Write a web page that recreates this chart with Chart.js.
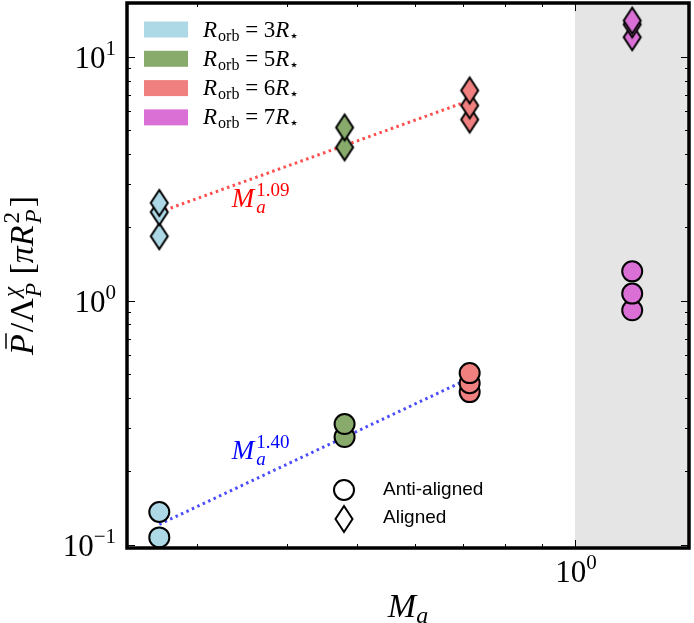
<!DOCTYPE html>
<html>
<head>
<meta charset="utf-8">
<script src="https://cdn.jsdelivr.net/npm/chart.js@4"></script>
<style>
  html, body { margin: 0; padding: 0; background: #fff; }
</style>
</head>
<body>
<canvas id="chart" width="694" height="623"></canvas>
<script>
// axis ranges (log scales)
const xMin = 0.24, xMax = 1.438;
const yMin = 0.0968, yMax = 16.65;

// one entry per orbital radius
const orbitRadii = ['3', '5', '6', '7'];
const alfvenMach = [0.266, 0.48, 0.715, 1.2];
const antiAligned = [
  [0.107, 0.136],
  [0.276, 0.312],
  [0.422, 0.459, 0.505],
  [0.914, 1.07, 1.32],
];
const aligned = [
  [1.84, 2.31, 2.52],
  [4.26, 5.14],
  [5.54, 6.33, 7.29],
  [12.05, 13.6, 14.1],
];

// power-law fits, end points
const fitMach = [0.266, 0.715];
const fitAligned = [2.31, 6.63];
const fitAntiAligned = [0.121, 0.481];
const fitExponents = ['1.09', '1.40'];
const fitLabelAt = [[0.335, 2.42], [0.335, 0.224]];

const yMajorTicks = [0.1, 1, 10];
const yTickExponents = ['\u22121', '0', '1'];
const xMajorTicks = [1];
const xTickExponents = ['0'];
const shadedFrom = 1;

const orbitColors = ['#add8e6', '#88ab6b', '#f08080', '#da70d6'];
const serif = '"Liberation Serif", "DejaVu Serif", serif';
const sans = '"Liberation Sans", Arial, sans-serif';
const it = s => `italic ${s}px ${serif}`;
const rm = s => `${s}px ${serif}`;

function makeDiamond(fill) {
  const c = document.createElement('canvas');
  c.width = 24;
  c.height = 34;
  const g = c.getContext('2d');
  g.beginPath();
  g.moveTo(12, 4);
  g.lineTo(20.5, 17);
  g.lineTo(12, 30);
  g.lineTo(3.5, 17);
  g.closePath();
  if (fill) {
    g.fillStyle = fill;
    g.fill();
  }
  g.lineWidth = 2;
  g.lineJoin = 'miter';
  g.strokeStyle = '#000';
  g.stroke();
  return c;
}

// draws a run of text pieces (sub/superscripts) starting at x, baseline y
function drawRich(ctx, parts, x, y, align) {
  let cur = 0, prevStart = 0, prevEnd = 0;
  const placed = parts.map(p => {
    ctx.font = p.f;
    const w = ctx.measureText(p.t).width;
    const sx = p.back ? prevStart : cur + (p.gap || 0);
    const ex = sx + w;
    cur = p.back ? Math.max(prevEnd, ex) : ex;
    prevStart = sx;
    prevEnd = cur;
    return { p, sx, w };
  });
  let x0 = x;
  if (align === 'right') x0 = x - cur;
  if (align === 'center') x0 = x - cur / 2;
  ctx.textAlign = 'left';
  ctx.textBaseline = 'alphabetic';
  placed.forEach(({ p, sx, w }) => {
    ctx.font = p.f;
    ctx.fillText(p.t, x0 + sx, y + (p.dy || 0));
    if (p.bar) {
      ctx.beginPath();
      ctx.lineWidth = 1.5;
      ctx.moveTo(x0 + sx + w * 0.3, y - p.bar);
      ctx.lineTo(x0 + sx + w * 1.05, y - p.bar);
      ctx.stroke();
    }
  });
  return cur;
}

function logTicks(min, max) {
  const out = [];
  for (let e = Math.floor(Math.log10(min)); e <= Math.ceil(Math.log10(max)); e++) {
    for (let k = 1; k < 10; k++) {
      const v = k * Math.pow(10, e);
      if (v >= min && v <= max) out.push({ v, major: k === 1 });
    }
  }
  return out;
}

const frame = {
  id: 'frame',
  beforeDatasetsDraw(chart) {
    const { ctx, chartArea: a, scales: { x } } = chart;
    const left = x.getPixelForValue(shadedFrom);
    ctx.save();
    ctx.fillStyle = '#e5e5e5';
    ctx.fillRect(left, a.top, a.right - left, a.bottom - a.top);
    ctx.restore();
  },
  afterDatasetsDraw(chart) {
    const { ctx, chartArea: a, scales: { x, y } } = chart;
    ctx.save();
    ctx.strokeStyle = '#000';
    ctx.fillStyle = '#000';

    // ticks, pointing inwards on all four sides
    ctx.lineWidth = 1;
    logTicks(yMin, yMax).forEach(t => {
      const py = Math.round(y.getPixelForValue(t.v)) + 0.5;
      const len = t.major ? 8 : 4;
      ctx.beginPath();
      ctx.moveTo(a.left, py);
      ctx.lineTo(a.left + len, py);
      ctx.moveTo(a.right, py);
      ctx.lineTo(a.right - len, py);
      ctx.stroke();
    });
    logTicks(xMin, xMax).forEach(t => {
      const px = Math.round(x.getPixelForValue(t.v)) + 0.5;
      const len = t.major ? 8 : 4;
      ctx.beginPath();
      ctx.moveTo(px, a.bottom);
      ctx.lineTo(px, a.bottom - len);
      ctx.moveTo(px, a.top);
      ctx.lineTo(px, a.top + len);
      ctx.stroke();
    });

    // frame
    ctx.lineWidth = 3.5;
    ctx.strokeRect(a.left, a.top, a.right - a.left, a.bottom - a.top);

    // tick labels
    yMajorTicks.forEach((v, i) => {
      drawRich(ctx, [
        { t: '10', f: rm(31) },
        { t: yTickExponents[i], f: rm(21), dy: -13 },
      ], a.left - 11, y.getPixelForValue(v) + 11, 'right');
    });
    xMajorTicks.forEach((v, i) => {
      drawRich(ctx, [
        { t: '10', f: rm(31) },
        { t: xTickExponents[i], f: rm(21), dy: -13 },
      ], x.getPixelForValue(v) + 1, a.bottom + 34, 'center');
    });

    // axis titles
    drawRich(ctx, [
      { t: 'M', f: it(34) },
      { t: 'a', f: it(24), dy: 6 },
    ], (a.left + a.right) / 2, 617, 'center');

    ctx.save();
    ctx.translate(33, (a.top + a.bottom) / 2);
    ctx.rotate(-Math.PI / 2);
    drawRich(ctx, [
      { t: 'P', f: it(34), bar: 27 },
      { t: '/', f: rm(34), gap: 2 },
      { t: '\u039b', f: rm(34) },
      { t: '\u03c7', f: it(23), dy: -14, gap: 1 },
      { t: 'P', f: it(23), dy: 8, back: true },
      { t: ' [', f: rm(34) },
      { t: '\u03c0', f: it(34) },
      { t: 'R', f: it(34) },
      { t: '2', f: rm(23), dy: -14, gap: 2 },
      { t: 'P', f: it(23), dy: 8, back: true },
      { t: ']', f: rm(34), gap: 2 },
    ], 0, 0, 'center');
    ctx.restore();

    // fit annotations
    const fitColors = ['#ff0000', '#0000ff'];
    fitExponents.forEach((e, i) => {
      ctx.fillStyle = fitColors[i];
      drawRich(ctx, [
        { t: 'M', f: it(27) },
        { t: e, f: rm(19), dy: -11, gap: 2 },
        { t: 'a', f: it(19), dy: 6, back: true },
      ], x.getPixelForValue(fitLabelAt[i][0]), y.getPixelForValue(fitLabelAt[i][1]), 'left');
    });

    // orbit legend (top left)
    orbitRadii.forEach((r, i) => {
      const rowY = a.top + 26.5 + 29.3 * i;
      ctx.fillStyle = orbitColors[i];
      ctx.fillRect(a.left + 17, rowY - 8, 44, 16);
      ctx.fillStyle = '#000';
      drawRich(ctx, [
        { t: 'R', f: it(23) },
        { t: 'orb', f: rm(16), dy: 4, gap: 1 },
        { t: ' = ' + r, f: rm(23) },
        { t: 'R', f: it(23) },
        { t: '\u22c6', f: rm(16), dy: 4 },
      ], a.left + 76, rowY + 7, 'left');
    });

    // marker legend
    const lx = a.left + 217;
    ctx.lineWidth = 2;
    ctx.beginPath();
    ctx.arc(lx, 490, 10, 0, Math.PI * 2);
    ctx.stroke();
    ctx.drawImage(makeDiamond(null), lx - 12, 519 - 17);
    ctx.font = `19px ${sans}`;
    ctx.textAlign = 'left';
    ctx.textBaseline = 'middle';
    ctx.fillText('Anti-aligned', a.left + 256, 490);
    ctx.fillText('Aligned', a.left + 256, 518);
    ctx.restore();
  },
};

const datasets = [];
alfvenMach.forEach((m, i) => {
  datasets.push({
    data: antiAligned[i].map(v => ({ x: m, y: v })),
    pointStyle: 'circle',
    pointRadius: 10,
    backgroundColor: orbitColors[i],
    borderColor: '#000',
    borderWidth: 2,
    order: 1,
  });
  datasets.push({
    data: aligned[i].map(v => ({ x: m, y: v })),
    pointStyle: makeDiamond(orbitColors[i]),
    backgroundColor: orbitColors[i],
    borderColor: '#000',
    order: 1,
  });
});
[[fitAligned, 'rgba(255, 0, 0, 0.7)'], [fitAntiAligned, 'rgba(0, 0, 255, 0.7)']].forEach(([fit, color]) => {
  datasets.push({
    data: fitMach.map((m, k) => ({ x: m, y: fit[k] })),
    showLine: true,
    borderColor: color,
    borderWidth: 3,
    borderDash: [2.5, 3.5],
    pointRadius: 0,
    order: 10,
  });
});

new Chart(document.getElementById('chart'), {
  type: 'scatter',
  data: { datasets },
  options: {
    responsive: false,
    animation: false,
    events: [],
    layout: { autoPadding: false, padding: { left: 127, top: 3, right: 5, bottom: 75 } },
    scales: {
      x: { type: 'logarithmic', min: xMin, max: xMax, display: false },
      y: { type: 'logarithmic', min: yMin, max: yMax, display: false },
    },
    plugins: {
      legend: { display: false },
      tooltip: { enabled: false },
    },
  },
  plugins: [frame],
});
</script>
</body>
</html>
